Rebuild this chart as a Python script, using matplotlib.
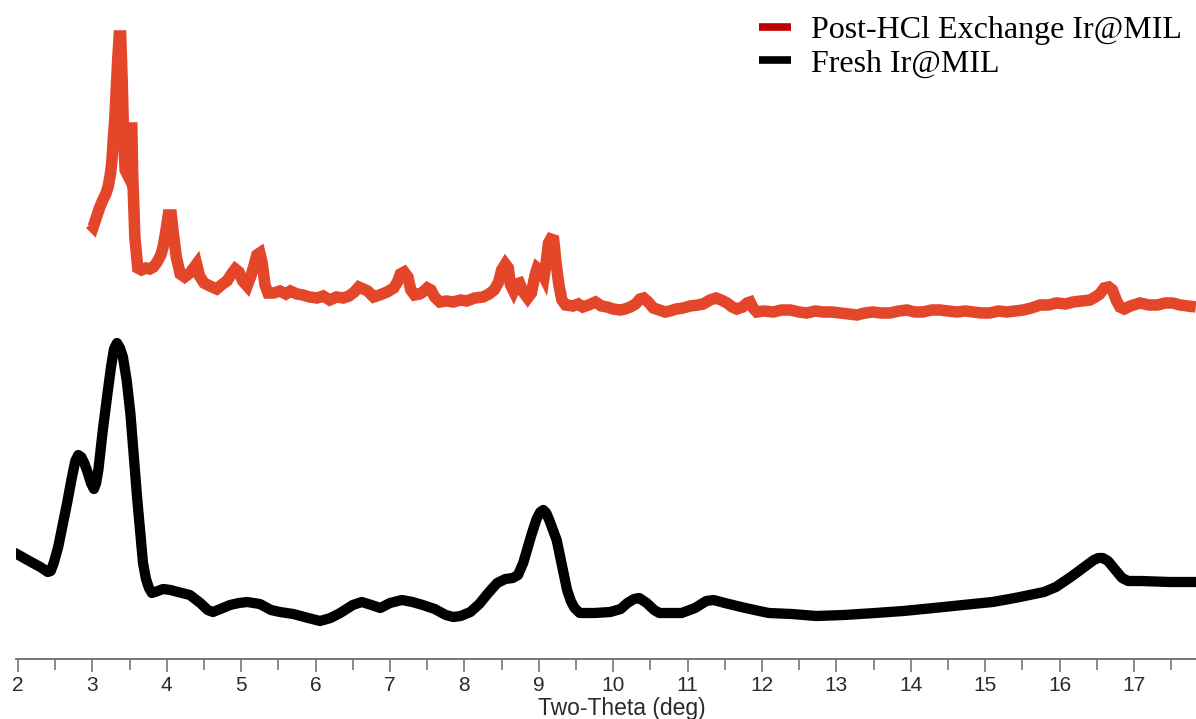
import matplotlib
matplotlib.use("Agg")
import matplotlib.pyplot as plt
from matplotlib.lines import Line2D
from matplotlib.ticker import MultipleLocator

# Powder XRD patterns (two-theta in degrees, intensity in arbitrary units)
fresh_2theta = [1.96, 2.08, 2.20, 2.30, 2.40, 2.44, 2.48, 2.54, 2.60, 2.66,
                2.72, 2.77, 2.81, 2.85, 2.89, 2.93, 2.98, 3.02, 3.05, 3.08,
                3.14, 3.20, 3.25, 3.29, 3.33, 3.37, 3.41, 3.46, 3.51, 3.60,
                3.68, 3.72, 3.76, 3.80, 3.88, 3.95, 4.05, 4.15, 4.31, 4.45,
                4.55, 4.62, 4.72, 4.85, 4.97, 5.08, 5.25, 5.40, 5.52, 5.70,
                5.90, 6.06, 6.20, 6.33, 6.50, 6.62, 6.75, 6.87, 7.00, 7.16,
                7.30, 7.44, 7.60, 7.75, 7.85, 7.95, 8.08, 8.20, 8.32, 8.44,
                8.55, 8.65, 8.72, 8.79, 8.90, 8.97, 9.02, 9.06, 9.10, 9.14,
                9.24, 9.31, 9.38, 9.43, 9.48, 9.55, 9.75, 9.96, 10.10, 10.19,
                10.28, 10.35, 10.45, 10.55, 10.62, 10.68, 10.92, 11.10, 11.25, 11.35,
                11.50, 11.72, 11.90, 12.09, 12.40, 12.73, 13.10, 13.52, 13.90, 14.31,
                14.70, 15.10, 15.40, 15.79, 15.95, 16.15, 16.35, 16.46, 16.52, 16.58,
                16.65, 16.75, 16.84, 16.92, 17.10, 17.47, 17.83]
fresh_intensity = [106, 101, 96, 92, 87, 88, 96, 112, 134, 156,
                   180, 198, 204, 202, 196, 188, 176, 170, 176, 189,
                   229, 264, 292, 310, 316, 311, 302, 279, 246, 162,
                   96, 80, 71, 66, 68, 70, 69, 67, 64, 56,
                   49, 47, 50, 54, 56, 57, 55, 49, 47, 45,
                   41, 38, 41, 46, 54, 57, 54, 51, 56, 59,
                   57, 54, 50, 44, 42, 43, 47, 55, 66, 76,
                   80, 81, 84, 96, 124, 140, 147, 149, 146, 139,
                   119, 94, 69, 58, 51, 46, 46, 47, 50, 56,
                   60, 61, 56, 49, 46, 46, 46, 51, 58, 59,
                   56, 52, 49, 46, 45, 43, 44, 46, 48, 51,
                   54, 57, 61, 67, 72, 82, 93, 99, 101, 101,
                   98, 89, 81, 78, 78, 77, 77]

hcl_2theta = [2.97, 3.01, 3.05, 3.10, 3.14, 3.18, 3.21, 3.24, 3.26, 3.28,
              3.30, 3.32, 3.34, 3.36, 3.38, 3.40, 3.42, 3.44, 3.46, 3.47,
              3.50, 3.53, 3.54, 3.57, 3.61, 3.66, 3.72, 3.77, 3.82, 3.87,
              3.92, 3.95, 3.99, 4.02, 4.06, 4.09, 4.13, 4.18, 4.24, 4.31,
              4.36, 4.40, 4.44, 4.50, 4.58, 4.67, 4.75, 4.81, 4.86, 4.92,
              4.97, 5.02, 5.08, 5.13, 5.17, 5.21, 5.25, 5.28, 5.32, 5.36,
              5.44, 5.52, 5.60, 5.66, 5.75, 5.83, 5.92, 6.02, 6.10, 6.19,
              6.28, 6.37, 6.45, 6.52, 6.58, 6.64, 6.70, 6.78, 6.86, 6.96,
              7.05, 7.10, 7.14, 7.19, 7.24, 7.28, 7.33, 7.40, 7.44, 7.50,
              7.55, 7.60, 7.67, 7.76, 7.85, 7.95, 8.03, 8.14, 8.25, 8.33,
              8.40, 8.46, 8.50, 8.55, 8.59, 8.62, 8.66, 8.70, 8.74, 8.79,
              8.85, 8.90, 8.95, 8.98, 9.03, 9.07, 9.10, 9.13, 9.16, 9.20,
              9.23, 9.27, 9.31, 9.36, 9.46, 9.53, 9.59, 9.67, 9.76, 9.84,
              9.92, 10.00, 10.09, 10.16, 10.23, 10.30, 10.36, 10.41, 10.47, 10.54,
              10.62, 10.70, 10.76, 10.85, 10.94, 11.03, 11.14, 11.21, 11.30, 11.38,
              11.45, 11.53, 11.60, 11.66, 11.74, 11.80, 11.84, 11.88, 11.93, 12.02,
              12.15, 12.26, 12.38, 12.50, 12.60, 12.72, 12.82, 12.94, 13.05, 13.16,
              13.28, 13.38, 13.49, 13.60, 13.72, 13.84, 13.95, 14.05, 14.16, 14.28,
              14.39, 14.50, 14.62, 14.73, 14.84, 14.95, 15.06, 15.18, 15.29, 15.40,
              15.51, 15.62, 15.74, 15.85, 15.96, 16.08, 16.18, 16.30, 16.41, 16.48,
              16.54, 16.60, 16.66, 16.71, 16.76, 16.81, 16.87, 16.95, 17.08, 17.20,
              17.31, 17.42, 17.52, 17.62, 17.72, 17.83]
hcl_intensity = [435, 432, 441, 452, 459, 465, 472, 484, 496, 519,
                 539, 569, 599, 623, 623, 579, 519, 489, 486, 529,
                 531, 531, 489, 422, 391, 389, 391, 390, 392, 397,
                 404, 412, 429, 444, 444, 424, 401, 385, 382, 386,
                 391, 395, 383, 376, 373, 370, 375, 378, 384, 390,
                 387, 378, 373, 383, 393, 404, 406, 397, 374, 366,
                 366, 368, 365, 368, 365, 364, 362, 361, 363, 359,
                 362, 361, 363, 367, 372, 370, 368, 362, 364, 367,
                 371, 377, 385, 387, 382, 369, 364, 365, 367, 371,
                 369, 362, 357, 358, 357, 359, 358, 361, 362, 365,
                 369, 377, 389, 395, 391, 374, 368, 375, 376, 367,
                 361, 366, 384, 391, 388, 382, 397, 416, 420, 419,
                 397, 374, 359, 354, 353, 355, 352, 354, 357, 353,
                 352, 350, 349, 350, 352, 355, 360, 361, 357, 351,
                 349, 347, 348, 350, 351, 353, 354, 355, 359, 361,
                 359, 356, 352, 350, 352, 356, 357, 351, 347, 348,
                 347, 349, 349, 347, 346, 348, 347, 347, 346, 345,
                 344, 346, 347, 346, 346, 348, 349, 347, 347, 349,
                 349, 348, 347, 348, 347, 346, 346, 348, 347, 348,
                 349, 351, 354, 354, 356, 355, 357, 358, 359, 362,
                 365, 371, 372, 369, 359, 352, 350, 353, 356, 354,
                 354, 356, 356, 354, 353, 352]

series_labels = ["Post-HCl Exchange Ir@MIL", "Fresh Ir@MIL"]
x_ticks = list(range(2, 18))

W, H = 1196, 719
fig = plt.figure(figsize=(W / 100, H / 100), dpi=100)
axis_y = 659
left_px = 16
ax = fig.add_axes([left_px / W, (H - axis_y) / H, (W - left_px) / W, axis_y / H])

red = "#E4462A"
ax.plot(hcl_2theta, hcl_intensity, color=red, lw=8.3,
        solid_joinstyle="miter", solid_capstyle="butt")
ax.plot(fresh_2theta, fresh_intensity, color="black", lw=7.4,
        solid_joinstyle="round", solid_capstyle="round")

ax.set_xlim(1.973, 17.833)
ax.set_ylim(0, axis_y)

for s in ("top", "left", "right"):
    ax.spines[s].set_visible(False)
ax.spines["bottom"].set_color("#6b6b6b")
ax.spines["bottom"].set_linewidth(1.3)
ax.set_yticks([])
ax.set_xticks(x_ticks)
ax.xaxis.set_minor_locator(MultipleLocator(0.5))
ax.tick_params(axis="x", which="major", direction="out", length=9, width=1.1,
               color="#6b6b6b", pad=3, labelsize=15, labelcolor="#2a2a2a")
ax.tick_params(axis="x", which="minor", direction="out", length=8, width=1.1,
               color="#6b6b6b")
for lbl in ax.get_xticklabels():
    lbl.set_fontfamily("Liberation Sans")

ax.set_xlabel("Two-Theta (deg)", fontsize=16.5, family="Liberation Sans",
              color="#2a2a2a")
ax.xaxis.set_label_coords((622 - left_px) / (W - left_px), -50 / axis_y)
ax.xaxis.label.set_va("center")

handles = [Line2D([], [], color="#C00000", lw=5.5, solid_capstyle="butt"),
           Line2D([], [], color="black", lw=5.5, solid_capstyle="butt")]
fig.legend(handles, series_labels, loc="upper right",
           bbox_to_anchor=(1182 / W, 1.0 - 16 / H), frameon=False,
           prop={"family": "Liberation Serif", "size": 23},
           handlelength=1.0, handletextpad=0.62, labelspacing=0.12,
           borderpad=0.0, borderaxespad=0.0)

fig.savefig("out.png", dpi=100)
